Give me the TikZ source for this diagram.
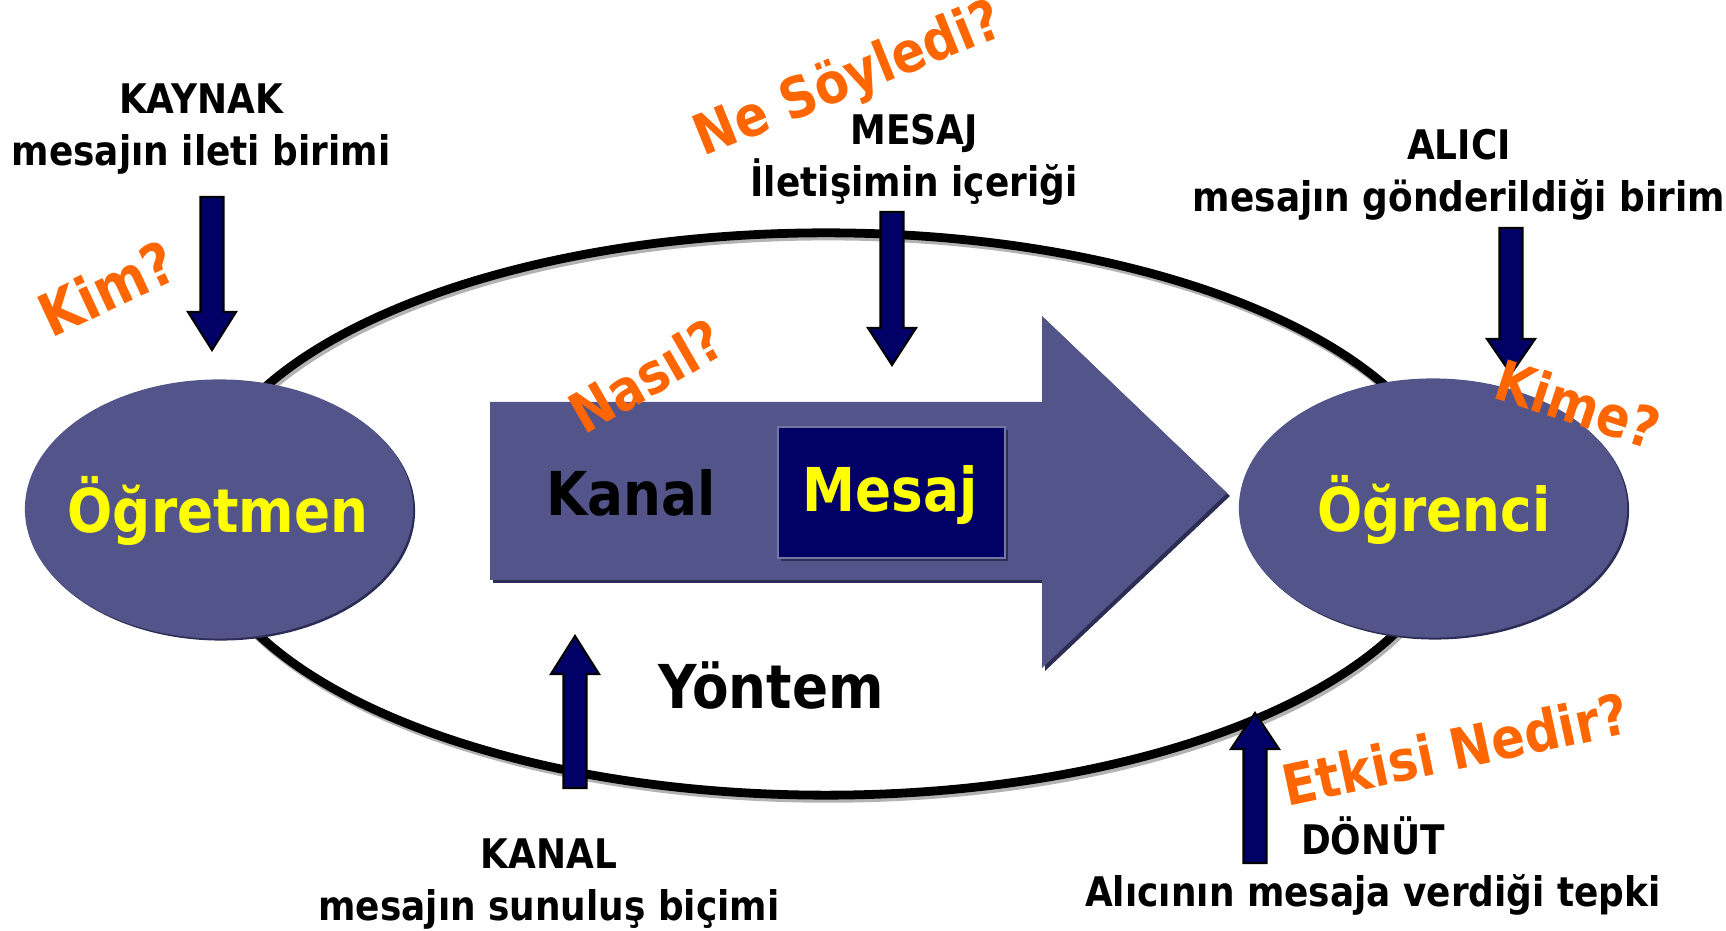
\documentclass[tikz,border=0pt]{standalone}
\usepackage{fontspec}
\setmainfont{DejaVu Sans}[FakeStretch=0.88]
\usetikzlibrary{shapes.geometric}
\definecolor{ellfill}{HTML}{53548A}
\definecolor{ellshadow}{HTML}{2C2D55}
\definecolor{navy}{HTML}{000066}
\definecolor{qorange}{HTML}{FF6600}
\definecolor{txtyellow}{HTML}{FFFF00}
\tikzset{
  blob/.style={ellipse, fill=ellfill, inner sep=0pt, minimum width=3.88cm, minimum height=2.59cm},
  blobshadow/.style={ellipse, fill=ellshadow, inner sep=0pt, minimum width=3.88cm, minimum height=2.59cm},
  bigtxt/.style={font=\bfseries\fontsize{17.2}{20}\selectfont, inner sep=0pt},
  lbl/.style={font=\bfseries\fontsize{11.6}{14.7}\selectfont, align=center, inner sep=0pt, text=black},
  quest/.style={font=\bfseries\fontsize{16}{18}\selectfont, text=qorange, inner sep=0pt},
  blockarrow/.style={fill=navy, draw=black, line width=0.6pt, line join=miter},
}
\begin{document}
\begin{tikzpicture}[x=0.01cm, y=-0.01cm]
\useasboundingbox (0,0) rectangle (1726,931);
% outer ellipse with shadow
\draw[gray!60, line width=2.6pt] (828,517) ellipse [x radius=6.28cm, y radius=2.81cm];
\draw[black, line width=2.5pt] (826,514) ellipse [x radius=6.28cm, y radius=2.81cm];
% big arrow
\fill[ellshadow] (493,405) -- (1045,405) -- (1045,319) -- (1230,496) -- (1045,671) -- (1045,583) -- (493,583) -- cycle;
\fill[ellfill] (490,402) -- (1042,402) -- (1042,316) -- (1227,493) -- (1042,668) -- (1042,580) -- (490,580) -- cycle;
% mesaj box
\fill[ellshadow] (781,430) rectangle (1008,561);
\node[draw=ellfill!80!white, fill=navy, line width=0.6pt, minimum width=2.27cm, minimum height=1.31cm, inner sep=0pt] (mesajbox) at (891.5,492.5) {};
\node[bigtxt, text=txtyellow] (mesaj) at (890,495) {Mesaj};
\node[bigtxt, text=black] (kanal) at (631,493) {Kanal};
\node[bigtxt, text=black] (yontem) at (771,686) {Yöntem};
% side ellipses
\node[blobshadow] (ogretmenS) at (221,511) {};
\node[blob] (ogretmen) at (219,509) {};
\node[bigtxt, text=txtyellow] (ogretmenT) at (218,511) {Öğretmen};
\node[blobshadow] (ogrenciS) at (1435,510) {};
\node[blob] (ogrenci) at (1433,508) {};
\node[bigtxt, text=txtyellow] (ogrenciT) at (1434,510) {Öğrenci};
% small arrows
\draw[blockarrow] (200.5,197) -- (223.5,197) -- (223.5,312) -- (236,312) -- (212,350) -- (188,312) -- (200.5,312) -- cycle;
\draw[blockarrow] (880.5,212) -- (903.5,212) -- (903.5,328) -- (916,328) -- (892,365) -- (868,328) -- (880.5,328) -- cycle;
\draw[blockarrow] (1499.5,228) -- (1522.5,228) -- (1522.5,339) -- (1535,339) -- (1511,374) -- (1487,339) -- (1499.5,339) -- cycle;
\draw[blockarrow] (563.5,788) -- (586.5,788) -- (586.5,674) -- (599,674) -- (575,636) -- (551,674) -- (563.5,674) -- cycle;
\draw[blockarrow] (1243.5,863) -- (1266.5,863) -- (1266.5,749) -- (1279,749) -- (1255,713) -- (1231,749) -- (1243.5,749) -- cycle;
% labels
\node[lbl] (kaynak) at (201,129) {KAYNAK\\mesajın ileti birimi};
\node[lbl] (mesajlbl) at (914,160) {MESAJ\\İletişimin içeriği};
\node[lbl] (alici) at (1459,175) {ALICI\\mesajın gönderildiği birim};
\node[lbl] (kanallbl) at (549,884) {KANAL\\mesajın sunuluş biçimi};
\node[lbl] (donut) at (1373,866) {DÖNÜT\\Alıcının mesaja verdiği tepki};
% questions
\node[quest, rotate=25, font=\bfseries\fontsize{16.8}{18}\selectfont] (kim) at (107,288) {Kim?};
\node[quest, rotate=22] (nesoyledi) at (849,81) {Ne Söyledi?};
\node[quest, rotate=30] (nasil) at (646,376) {Nasıl?};
\node[quest, rotate=-18] (kime) at (1578,404) {Kime?};
\node[quest, rotate=12] (etkisi) at (1455,749) {Etkisi Nedir?};
\end{tikzpicture}
\end{document}
